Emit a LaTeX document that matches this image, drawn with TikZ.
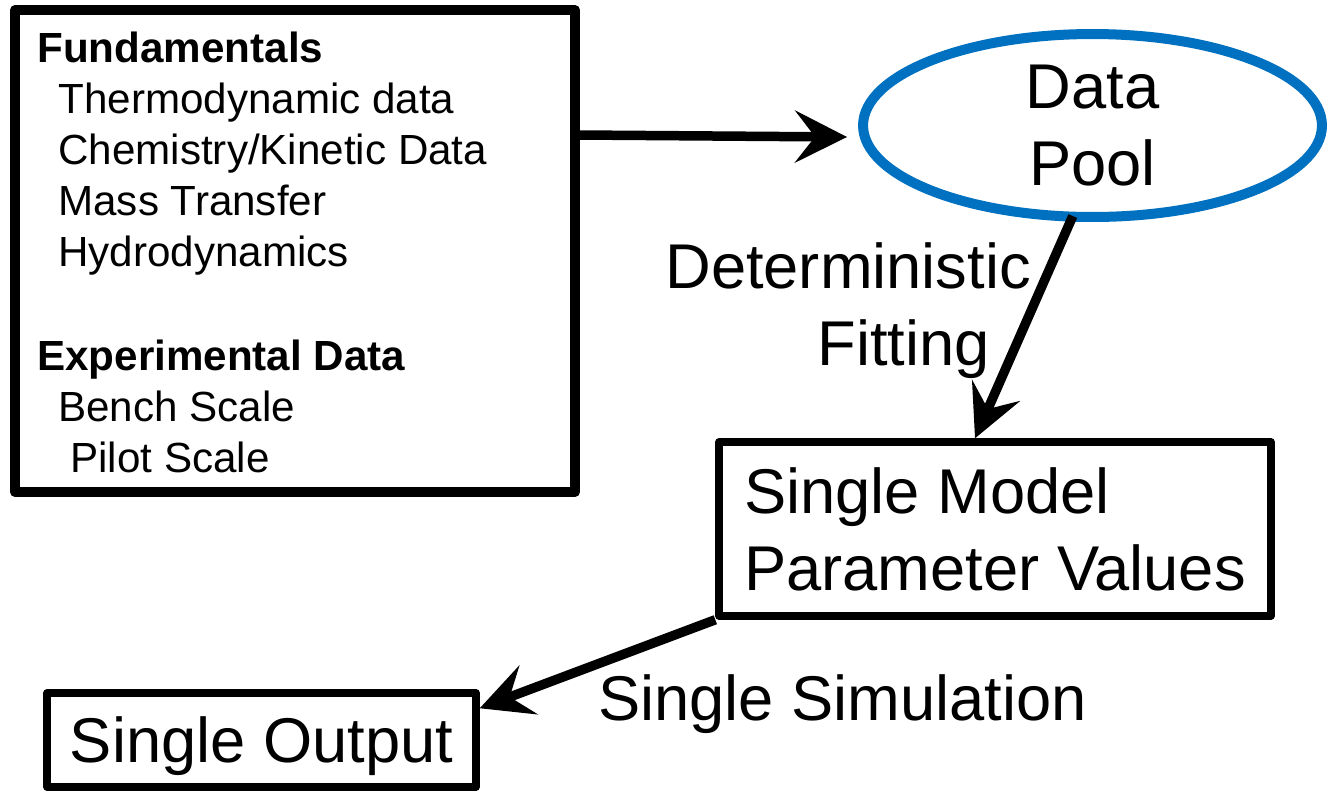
\documentclass[tikz,border=0pt]{standalone}
\usepackage{fontspec}
\setmainfont{Liberation Sans}
\usetikzlibrary{shapes.geometric,arrows.meta}
\definecolor{poolblue}{RGB}{0,112,192}
\begin{document}
\begin{tikzpicture}[x=0.02cm,y=-0.02cm,
  big/.style={font=\fontsize{36}{43.8}\selectfont},
  small/.style={font=\fontsize{24}{29}\selectfont, anchor=base west, inner sep=0},
  box/.style={draw, rectangle, line width=0.15cm, line join=round, inner sep=0},
  conn/.style={line width=0.19cm, -{Stealth[length=1.04cm,width=1.04cm,inset=0.4cm]}},
  lbl/.style={font=\fontsize{36}{43.8}\selectfont, anchor=base west, inner sep=0}]
\useasboundingbox (0,0) rectangle (1327,792);
% left box
\node[box, line width=0.2cm, minimum width=11.2cm, minimum height=9.64cm] (lbox) at (295,251) {};
\node[small] (t1) at (37,62) {\bfseries Fundamentals};
\node[small] (t2) at (58,113) {Thermodynamic data};
\node[small] (t3) at (58,164) {Chemistry/Kinetic Data};
\node[small] (t4) at (58,215) {Mass Transfer};
\node[small] (t5) at (58,266) {Hydrodynamics};
\node[small] (t6) at (37,370) {\bfseries Experimental Data};
\node[small] (t7) at (58,421) {Bench Scale};
\node[small] (t8) at (70,472) {Pilot Scale};
% data pool
\node[ellipse, draw=poolblue, line width=0.2cm, minimum width=9.18cm, minimum height=3.66cm,
      inner sep=0, big, align=center] (pool) at (1092.5,125.5) {Data\\Pool};
% single model
\node[box, minimum width=11.04cm, minimum height=3.48cm, big, align=left] (smodel) at (995,529)
  {Single Model\\Parameter Values};
% single output
\node[box, minimum width=8.58cm, minimum height=1.88cm, big, text depth=0pt] (sout) at (261.5,740)
  {Single Output};
% labels
\node[lbl] (det) at (665,288) {Deterministic};
\node[lbl] (fit) at (817,365) {Fitting};
\node[lbl] (sim) at (598,720) {Single Simulation};
% connectors
\coordinate (tipA) at ([xshift=-0.22cm]pool.west);
\draw[conn] (lbox.east |- 0,135) -- (tipA |- 0,137);
\draw[conn, shorten <=-0.12cm] (pool.257) -- ([xshift=-0.4cm]smodel.north);
\draw[conn] (smodel.south west) -- ([yshift=-0.38cm]sout.north east);
\end{tikzpicture}
\end{document}
